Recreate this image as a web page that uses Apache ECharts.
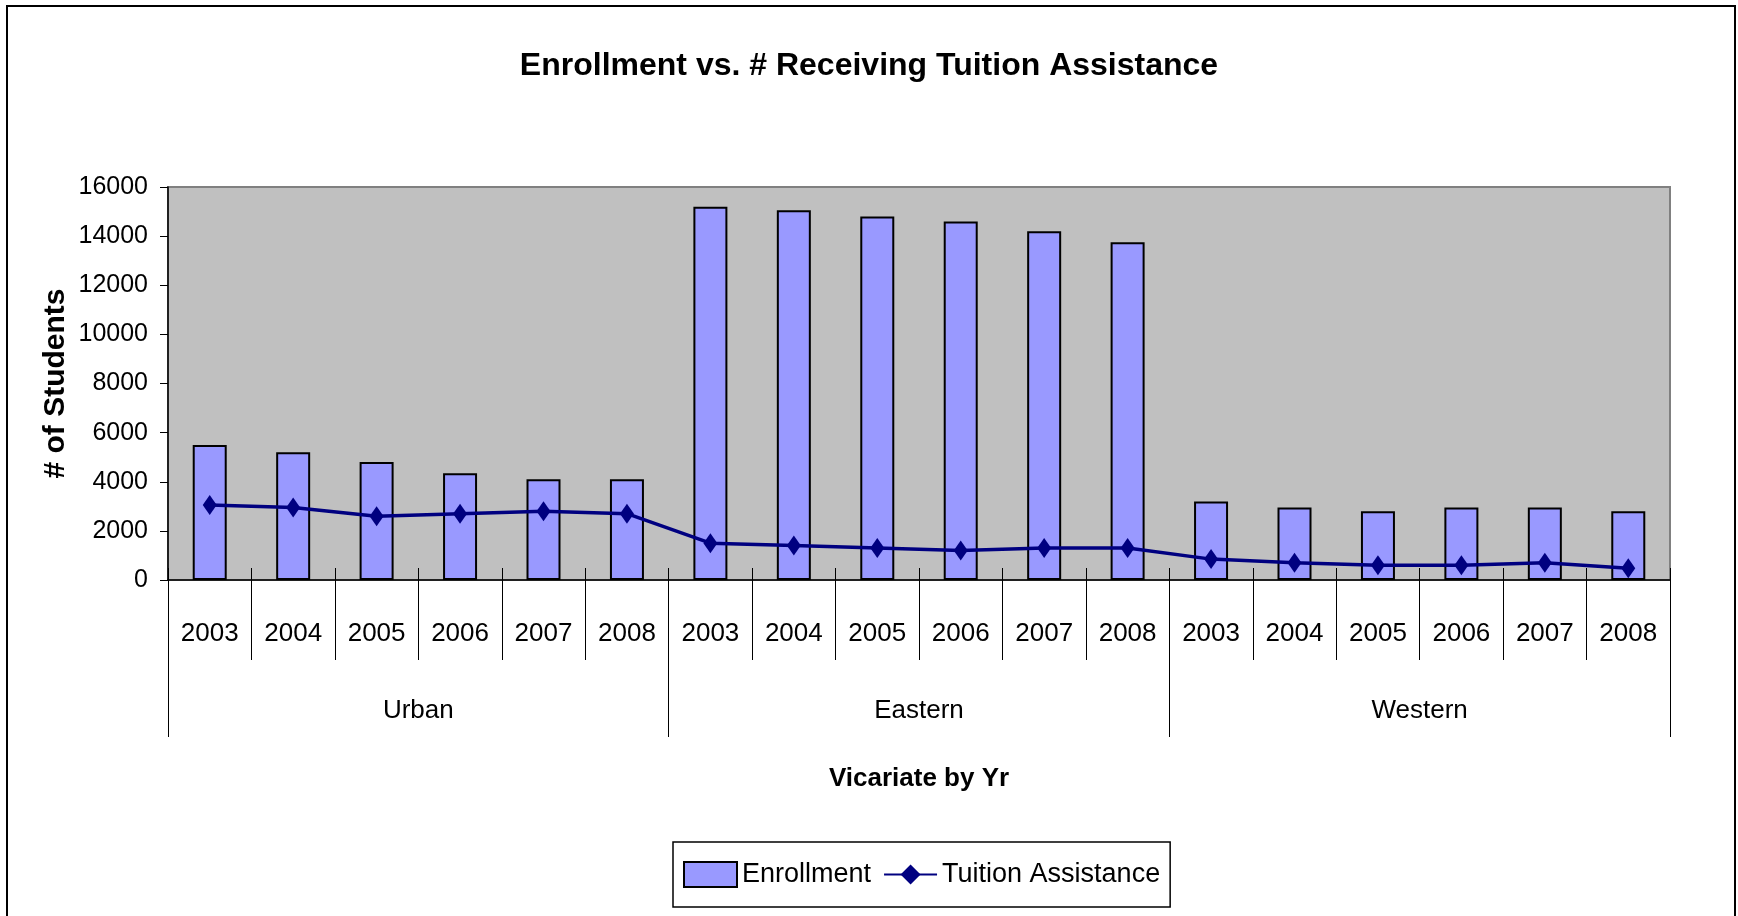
<!DOCTYPE html>
<html>
<head>
<meta charset="utf-8">
<script src="https://cdn.jsdelivr.net/npm/echarts@6/dist/echarts.min.js"></script>
<style>
  html, body { margin: 0; padding: 0; background: #fff; }
  #chart { width: 1738px; height: 916px; }
</style>
</head>
<body>
<div id="chart"></div>
<script>
  // categories
  const regions = ['Urban', 'Eastern', 'Western'];
  const years = ['2003', '2004', '2005', '2006', '2007', '2008'];
  const yearLabels = regions.flatMap(() => years);

  // series values
  const enrollment = [
    5500, 5200, 4800, 4350, 4100, 4100,
    15200, 15050, 14800, 14600, 14200, 13750,
    3200, 2950, 2800, 2950, 2950, 2800
  ];
  const tuition = [
    3050, 2950, 2600, 2700, 2800, 2700,
    1500, 1400, 1300, 1200, 1300, 1300,
    850, 700, 600, 600, 700, 480
  ];

  const font = '"Liberation Sans", Arial, sans-serif';

  const myChart = echarts.init(document.getElementById('chart'));
  myChart.setOption({
    backgroundColor: '#fff',
    animation: false,
    title: {
      text: 'Enrollment vs. # Receiving Tuition Assistance',
      left: 'center',
      top: 45,
      textStyle: { fontFamily: font, fontSize: 32, fontWeight: 'bold', color: '#000' }
    },
    graphic: [{
      type: 'rect',
      shape: { x: 7, y: 6, width: 1728, height: 1000 },
      style: { fill: 'none', stroke: '#000', lineWidth: 2 }
    }],
    legend: {
      left: 673,
      top: 842,
      orient: 'horizontal',
      data: [
        { name: 'Enrollment', icon: 'rect' },
        { name: 'Tuition Assistance' }
      ],
      borderColor: '#000',
      borderWidth: 1.5,
      padding: [19, 10, 19, 10],
      itemGap: 12,
      itemWidth: 53,
      itemHeight: 25,
      textStyle: { fontFamily: font, fontSize: 27, color: '#000' }
    },
    grid: {
      left: 168,
      right: 68,
      top: 187,
      bottom: 336,
      show: true,
      backgroundColor: '#C0C0C0',
      borderColor: '#808080',
      borderWidth: 2
    },
    xAxis: [
      {
        // year row
        type: 'category',
        data: yearLabels,
        position: 'bottom',
        axisLine: { show: true, lineStyle: { color: '#000', width: 1.5 } },
        axisTick: { show: true, interval: 0, length: 80, lineStyle: { color: '#000', width: 1 } },
        axisLabel: {
          interval: 0, margin: 54, verticalAlign: 'middle',
          fontFamily: font, fontSize: 26, color: '#000'
        },
        splitLine: { show: false }
      },
      {
        // vicariate row
        type: 'category',
        data: regions,
        position: 'bottom',
        axisLine: { show: false },
        axisTick: { show: true, interval: 0, length: 157, lineStyle: { color: '#000', width: 1 } },
        axisLabel: {
          interval: 0, margin: 131, verticalAlign: 'middle',
          fontFamily: font, fontSize: 26, color: '#000'
        },
        name: 'Vicariate by Yr',
        nameLocation: 'middle',
        nameGap: 186,
        nameMoveOverlap: false,
        nameTextStyle: { fontFamily: font, fontSize: 26, fontWeight: 'bold', color: '#000' },
        splitLine: { show: false }
      },
      {
        // short tick marks crossing into the plot
        type: 'category',
        data: yearLabels,
        position: 'bottom',
        axisLine: { show: false },
        axisTick: { show: true, inside: true, interval: 0, length: 12, lineStyle: { color: '#000', width: 1 } },
        axisLabel: { show: false },
        splitLine: { show: false }
      }
    ],
    yAxis: {
      type: 'value',
      min: 0,
      max: 16000,
      interval: 2000,
      name: '# of Students',
      nameLocation: 'middle',
      nameGap: 97,
      nameMoveOverlap: false,
      nameTextStyle: { fontFamily: font, fontSize: 30, fontWeight: 'bold', color: '#000' },
      axisLine: { show: true, lineStyle: { color: '#000', width: 1.5 } },
      axisTick: { show: true, length: 8, lineStyle: { color: '#000', width: 1 } },
      axisLabel: {
        margin: 20, fontFamily: font, fontSize: 25, color: '#000',
        formatter: (v) => String(v)
      },
      splitLine: { show: false }
    },
    series: [
      {
        name: 'Enrollment',
        type: 'bar',
        xAxisIndex: 0,
        data: enrollment,
        barWidth: 34,
        itemStyle: { color: '#9999FF', borderColor: '#000', borderWidth: 2 }
      },
      {
        name: 'Tuition Assistance',
        type: 'line',
        xAxisIndex: 0,
        data: tuition,
        symbol: 'diamond',
        symbolSize: [14, 20],
        lineStyle: { color: '#000080', width: 3.5 },
        itemStyle: { color: '#000080' }
      }
    ]
  });
</script>
</body>
</html>
